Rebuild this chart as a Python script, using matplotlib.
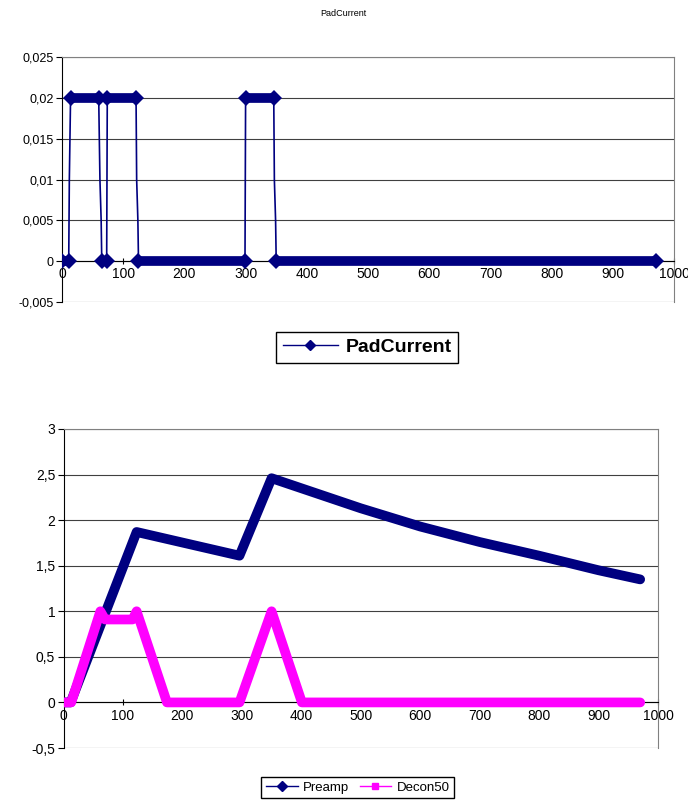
import numpy as np
import matplotlib
matplotlib.use('Agg')
import matplotlib.pyplot as plt
from matplotlib.lines import Line2D

plt.rcParams['font.family'] = ['Liberation Sans', 'DejaVu Sans']

# ---- dane ----
pad_x = [0, 11, 12, 14, 60, 62, 64, 65, 73, 74, 121, 122, 124, 125, 299, 300, 346, 347, 349, 350, 970]
pad_y = [0, 0, 0.01, 0.02, 0.02, 0.01, 0.005, 0, 0, 0.02, 0.02, 0.01, 0.005, 0, 0, 0.02, 0.02, 0.01, 0.005, 0, 0]

preamp_x = [0, 12, 123, 296, 350, 400, 500, 600, 700, 800, 900, 970]
preamp_y = [0, 0, 1.87, 1.61, 2.46, 2.35, 2.13, 1.93, 1.76, 1.61, 1.45, 1.35]

decon_x = [0, 13, 62, 70, 116, 123, 174, 296, 350, 401, 970]
decon_y = [0, 0, 1.0, 0.91, 0.91, 1.0, 0, 0, 1.0, 0, 0]

x_ticks = [0, 100, 200, 300, 400, 500, 600, 700, 800, 900, 1000]
top_yticks = [-0.005, 0, 0.005, 0.01, 0.015, 0.02, 0.025]
top_ylabels = ['-0,005', '0', '0,005', '0,01', '0,015', '0,02', '0,025']
bot_yticks = [-0.5, 0, 0.5, 1, 1.5, 2, 2.5, 3]
bot_ylabels = ['-0,5', '0', '0,5', '1', '1,5', '2', '2,5', '3']

navy = '#000080'
magenta = '#ff00ff'


def excel_axes(ax, yticks, ylabels, fs):
    ax.set_xlim(0, 1000)
    ax.set_ylim(yticks[0], yticks[-1])
    ax.set_xticks(x_ticks)
    ax.set_xticklabels([str(t) for t in x_ticks], fontsize=fs)
    ax.set_yticks(yticks)
    ax.set_yticklabels(ylabels, fontsize=fs)
    ax.spines['bottom'].set_position(('data', 0))
    ax.spines['bottom'].set_color('black')
    ax.spines['bottom'].set_linewidth(0.8)
    ax.spines['left'].set_color('black')
    ax.spines['left'].set_linewidth(0.8)
    ax.spines['top'].set_color('#808080')
    ax.spines['right'].set_color('#808080')
    ax.tick_params(axis='x', direction='inout', length=5, width=0.8, pad=2)
    ax.tick_params(axis='y', direction='out', length=4, width=0.8, pad=2)
    ax.grid(axis='y', color='#404040', linewidth=0.8)
    ax.set_axisbelow(True)


f = plt.figure(figsize=(6.88, 8), dpi=100)

# ---- wykres gorny ----
ax = f.add_axes([0.0901, 0.6225, 0.8896, 0.3059])
excel_axes(ax, top_yticks, top_ylabels, 9)
ax.plot(pad_x, pad_y, color=navy, linewidth=1.2, zorder=3)
for i in range(len(pad_x) - 1):
    if pad_y[i] == pad_y[i + 1]:
        ax.plot([pad_x[i], pad_x[i + 1]], [pad_y[i], pad_y[i + 1]], color=navy,
                linewidth=7, solid_capstyle='butt', zorder=3)
        ax.plot([pad_x[i], pad_x[i + 1]], [pad_y[i], pad_y[i + 1]], 'D', color=navy,
                markersize=8, markeredgewidth=0, zorder=3)
f.text(0.499, 0.983, 'PadCurrent', ha='center', va='center', fontsize=6.5)

h1 = Line2D([], [], color=navy, linewidth=1, marker='D', markersize=5)
f.legend([h1], ['PadCurrent'], loc='center', bbox_to_anchor=(0.534, 0.566),
         prop={'size': 14, 'weight': 'bold'}, fancybox=False, edgecolor='black',
         framealpha=1, handlelength=2.8, borderpad=0.35, handletextpad=0.4)

# ---- wykres dolny ----
ax2 = f.add_axes([0.0923, 0.065, 0.8641, 0.39875])
excel_axes(ax2, bot_yticks, bot_ylabels, 10)
ax2.plot(preamp_x, preamp_y, color=navy, linewidth=7, solid_capstyle='round',
         solid_joinstyle='round', zorder=3)
ax2.plot(decon_x, decon_y, color=magenta, linewidth=7, solid_capstyle='round',
         solid_joinstyle='round', zorder=4)

h2 = Line2D([], [], color=navy, linewidth=1, marker='D', markersize=5)
h3 = Line2D([], [], color=magenta, linewidth=1, marker='s', markersize=5)
f.legend([h2, h3], ['Preamp', 'Decon50'], loc='upper center', bbox_to_anchor=(0.52, 0.029),
         ncol=2, prop={'size': 9.5}, fancybox=False, edgecolor='black', framealpha=1,
         handlelength=2.4, borderpad=0.35, handletextpad=0.4, columnspacing=0.8,
         borderaxespad=0)

plt.savefig('out.png', dpi=100)
